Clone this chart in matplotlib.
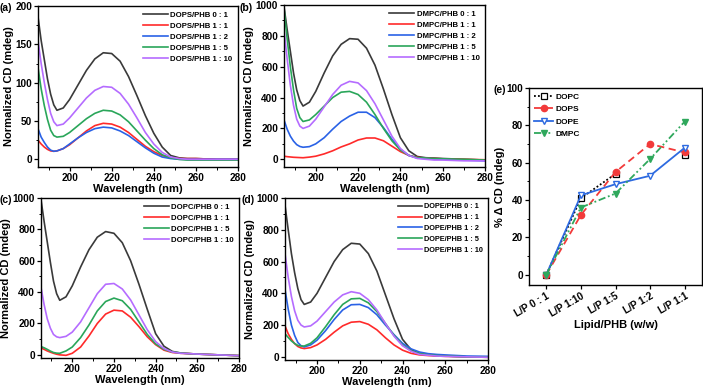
import matplotlib
matplotlib.use("Agg")
import matplotlib.pyplot as plt
import numpy as np
from matplotlib.ticker import MultipleLocator

plt.rcParams['font.family'] = ['Liberation Sans', 'DejaVu Sans']
plt.rcParams['font.weight'] = 'bold'
plt.rcParams['axes.labelweight'] = 'bold'

wl = [185, 186.5, 188, 189.5, 191, 192.5, 194, 197, 200, 204, 208, 212, 216, 220, 224, 228, 232, 236,
      240, 244, 248, 252, 256, 260, 270, 280]

# (a) DOPS
dops_labels = ['DOPS/PHB 0 : 1', 'DOPS/PHB 1 : 1', 'DOPS/PHB 1 : 2', 'DOPS/PHB 1 : 5', 'DOPS/PHB 1 : 10']
dops_0_1 = [186, 155, 130, 105, 85, 71, 64, 67, 78, 97, 116, 131, 139, 138, 128, 108, 83, 57, 34, 16, 5, 2, 1, 1, 0, 0]
dops_1_1 = [25, 20, 16, 13, 11, 10.5, 11, 14, 19, 28, 37, 44, 47, 46, 42, 35, 26, 17, 10, 5, 2, 1, 1, 1, 0, 0]
dops_1_2 = [40, 29, 22, 16, 12, 10.5, 11, 14, 20, 28, 35, 40, 42, 41, 37, 31, 23, 15, 8, 3, 1, 0, 0, 0, 0, 0]
dops_1_5 = [120, 92, 70, 52, 38, 31, 29, 30, 35, 44, 53, 60, 64, 63, 58, 49, 37, 25, 14, 6, 2, 0, -1, -1, -1, -1]
dops_1_10 = [155, 125, 100, 78, 60, 49, 44, 46, 54, 67, 80, 90, 95, 94, 86, 72, 54, 35, 20, 9, 3, 1, 0, 0, 0, 0]

# (b) DMPC
dmpc_labels = ['DMPC/PHB 0 : 1', 'DMPC/PHB 1 : 1', 'DMPC/PHB 1 : 2', 'DMPC/PHB 1 : 5', 'DMPC/PHB 1 : 10']
dmpc_0_1 = [990, 840, 700, 560, 450, 380, 345, 370, 440, 560, 670, 745, 782, 778, 720, 610, 455, 290, 140, 55, 18, 10, 8, 5, 0, -5]
dmpc_1_1 = [20, 17, 15, 13, 12, 11, 10, 14, 20, 35, 55, 80, 100, 125, 138, 138, 120, 85, 50, 25, 12, 8, 5, 3, 0, -3]
dmpc_1_2 = [255, 195, 150, 118, 95, 83, 78, 82, 100, 140, 195, 245, 280, 305, 305, 270, 205, 130, 65, 25, 8, 5, 3, 0, -5, -10]
dmpc_1_5 = [980, 780, 600, 450, 330, 270, 245, 255, 290, 345, 400, 435, 440, 420, 370, 290, 200, 120, 60, 25, 10, 8, 5, 3, 0, -5]
dmpc_1_10 = [840, 650, 480, 350, 260, 215, 200, 215, 260, 340, 420, 480, 505, 495, 445, 360, 255, 150, 70, 25, 5, 0, -5, -5, -10, -10]

# (c) DOPC
dopc_labels = ['DOPC/PHB 0 : 1', 'DOPC/PHB 1 : 1', 'DOPC/PHB 1 : 5', 'DOPC/PHB 1 : 10']
dopc_0_1 = [990, 850, 720, 590, 470, 390, 348, 370, 440, 560, 670, 750, 786, 775, 715, 600, 450, 290, 135, 55, 22, 12, 8, 5, 0, -5]
dopc_1_1 = [45, 35, 25, 17, 10, 4, 0, -3, 10, 50, 120, 200, 260, 285, 280, 240, 180, 115, 65, 30, 15, 10, 8, 5, 0, -5]
dopc_1_5 = [53, 45, 35, 24, 15, 11, 10, 25, 50, 110, 190, 280, 340, 362, 345, 290, 210, 130, 70, 35, 18, 12, 8, 5, 0, -5]
dopc_1_10 = [430, 320, 230, 170, 130, 115, 110, 118, 145, 210, 300, 390, 450, 455, 420, 350, 255, 160, 85, 40, 18, 10, 8, 5, 0, -5]

# (d) DOPE
dope_labels = ['DOPE/PHB 0 : 1', 'DOPE/PHB 1 : 1', 'DOPE/PHB 1 : 2', 'DOPE/PHB 1 : 5', 'DOPE/PHB 1 : 10']
dope_0_1 = [955, 800, 650, 530, 430, 360, 330, 345, 400, 500, 600, 675, 715, 710, 650, 540, 390, 240, 110, 45, 20, 12, 8, 5, 0, -2]
dope_1_1 = [195, 145, 110, 83, 65, 56, 52, 58, 75, 110, 155, 195, 218, 222, 205, 170, 120, 75, 42, 22, 12, 8, 5, 3, 0, -3]
dope_1_2 = [425, 300, 200, 135, 90, 70, 62, 75, 105, 165, 235, 295, 328, 330, 310, 265, 200, 140, 85, 50, 30, 20, 15, 12, 5, 3]
dope_1_5 = [145, 122, 100, 84, 72, 68, 68, 85, 120, 190, 265, 330, 365, 368, 340, 285, 210, 135, 75, 38, 20, 12, 8, 5, 0, -3]
dope_1_10 = [650, 500, 380, 290, 230, 200, 188, 195, 225, 285, 345, 390, 410, 400, 360, 295, 210, 130, 70, 35, 15, 10, 5, 3, 0, -3]

# (e) % delta CD
ratio_labels = ['L/P 0 : 1', 'L/P 1:10', 'L/P 1:5', 'L/P 1:2', 'L/P 1:1']
dopc_pct = [0, 41, 54, np.nan, 64]
dops_pct = [0, 32, 55, 70, 65.5]
dope_pct = [0, 42.5, 48.5, 53, 68]
dmpc_pct = [0, 36, 43.5, 62, 82]

C_BLACK = '#3a3a3a'
C_RED = '#ff2a2a'
C_BLUE = '#2a62e6'
C_GREEN = '#2aa65a'
C_PURPLE = '#b56cff'

W, H = 703, 389
fig = plt.figure(figsize=(W / 100, H / 100), dpi=100)


def rect(l, t, r, b):
    return [l / W, 1 - b / H, (r - l) / W, (b - t) / H]


def style_axes(ax):
    for s in ax.spines.values():
        s.set_linewidth(1.0)
    ax.tick_params(which='major', direction='out', length=3, width=0.9, labelsize=7.2, pad=1.2)
    ax.tick_params(which='minor', direction='out', length=1.8, width=0.7)
    for lab in ax.get_xticklabels() + ax.get_yticklabels():
        lab.set_fontweight('bold')


def spectra_panel(box, series, colors, labels, ylim, ymajor, yminor, fs_leg, lab_spacing):
    ax = fig.add_axes(rect(*box))
    for ys, c, lab in zip(series, colors, labels):
        ax.plot(wl, ys, color=c, lw=1.2, label=lab)
    ax.set_xlim(185, 280)
    ax.set_ylim(*ylim)
    ax.xaxis.set_major_locator(MultipleLocator(20))
    ax.xaxis.set_minor_locator(MultipleLocator(10))
    ax.yaxis.set_major_locator(MultipleLocator(ymajor))
    ax.yaxis.set_minor_locator(MultipleLocator(yminor))
    ax.set_xlabel('Wavelength (nm)', fontsize=8, fontweight='bold', labelpad=1)
    ax.set_ylabel('Normalized CD (mdeg)', fontsize=8, fontweight='bold', labelpad=1)
    style_axes(ax)
    ax.legend(loc='upper right', frameon=False, handlelength=3.2,
              handletextpad=0.3, labelspacing=lab_spacing, borderaxespad=0.3,
              prop={'weight': 'bold', 'size': fs_leg})
    return ax


spectra_panel((38, 6, 238, 167), [dops_0_1, dops_1_1, dops_1_2, dops_1_5, dops_1_10],
              [C_BLACK, C_RED, C_BLUE, C_GREEN, C_PURPLE], dops_labels,
              (-10, 200), 50, 25, 5.6, 0.45)
spectra_panel((284, 5, 485, 167), [dmpc_0_1, dmpc_1_1, dmpc_1_2, dmpc_1_5, dmpc_1_10],
              [C_BLACK, C_RED, C_BLUE, C_GREEN, C_PURPLE], dmpc_labels,
              (-50, 1000), 200, 100, 5.6, 0.45)
spectra_panel((41, 198, 239, 358), [dopc_0_1, dopc_1_1, dopc_1_5, dopc_1_10],
              [C_BLACK, C_RED, C_GREEN, C_PURPLE], dopc_labels,
              (-20, 1000), 200, 100, 5.6, 0.45)
spectra_panel((285, 198, 488, 360), [dope_0_1, dope_1_1, dope_1_2, dope_1_5, dope_1_10],
              [C_BLACK, C_RED, C_BLUE, C_GREEN, C_PURPLE], dope_labels,
              (-20, 1000), 200, 100, 5.3, 0.5)

# (e)
ax = fig.add_axes(rect(529, 88, 702, 285))
xs = np.arange(len(ratio_labels))
ax.plot(xs, dopc_pct, color='black', ls=(0, (1, 1.2)), lw=1.3, marker='s', ms=4.5,
        mfc='white', mec='black', mew=0.9, label='DOPC')
ax.plot(xs, dops_pct, color='#f23a3a', ls=(0, (4, 2.5)), lw=1.3, marker='o', ms=4.5,
        mfc='#f23a3a', mec='#f23a3a', label='DOPS')
ax.plot(xs, dope_pct, color='#2d6ae0', ls='-', lw=1.3, marker='v', ms=5,
        mfc='white', mec='#2d6ae0', mew=1.0, label='DOPE')
ax.plot(xs, dmpc_pct, color='#2fa85c', ls=(0, (4, 1.5, 1, 1.5, 1, 1.5)), lw=1.3, marker='v', ms=5,
        mfc='#2fa85c', mec='#2fa85c', label='DMPC')
ax.set_xlim(-0.5, 4.5)
ax.set_ylim(-5.5, 100)
ax.set_xticks(xs)
ax.set_xticklabels(ratio_labels, rotation=30, ha='right', rotation_mode='anchor')
ax.yaxis.set_major_locator(MultipleLocator(20))
ax.yaxis.set_minor_locator(MultipleLocator(10))
ax.set_xlabel('Lipid/PHB (w/w)', fontsize=8, fontweight='bold', labelpad=1)
ax.set_ylabel('% Δ CD (mdeg)', fontsize=8, fontweight='bold', labelpad=1)
style_axes(ax)
ax.legend(loc='upper left', frameon=False, handlelength=2.3, handletextpad=0.3,
          labelspacing=0.55, borderaxespad=0.2, prop={'weight': 'bold', 'size': 6})

# panel letters
for txt, x, y in [('(a)', 0, 8), ('(b)', 240, 8), ('(c)', 0, 200), ('(d)', 241, 200), ('(e)', 494, 90)]:
    fig.text(x / W, 1 - y / H, txt, fontsize=7.5, fontweight='bold', va='center', ha='left')

fig.savefig('out.png', dpi=100)
